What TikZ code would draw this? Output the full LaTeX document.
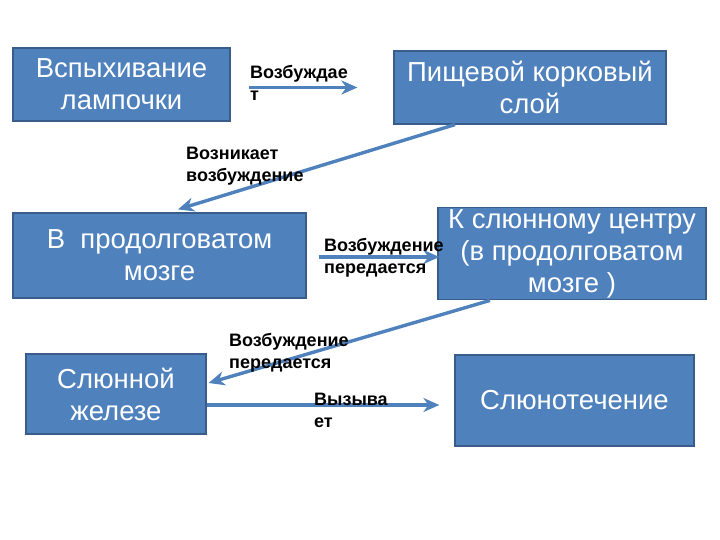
\documentclass[tikz,border=0pt]{standalone}
\usepackage{fontspec}
\setmainfont{Liberation Sans}
\usetikzlibrary{arrows.meta,calc}

\definecolor{boxblue}{HTML}{4F81BD}
\definecolor{boxline}{HTML}{385D8A}

\tikzset{
  stage/.style={draw=boxline, line width=1.2pt, fill=boxblue, text=white,
    font=\fontsize{27.5}{32}\selectfont, align=center, inner sep=2pt},
  link/.style={draw=boxblue, line width=3.4pt,
    -{Stealth[length=16pt,width=14pt,inset=5pt]}},
  note/.style={anchor=north west, font=\fontsize{18}{22}\selectfont\bfseries,
    align=left, inner sep=0pt}
}

\begin{document}
\begin{tikzpicture}[x=1pt,y=-1pt]
% Page frame
\useasboundingbox (0,0) rectangle (720,540);

% The six stages
\node[stage, minimum width=217pt, minimum height=73pt] (lamp) at (121.5,84.5) {Вспыхивание\\лампочки};
\node[stage, minimum width=272pt, minimum height=73pt] (cortex) at (530,87.5) {Пищевой корковый\\слой};
\node[stage, minimum width=293pt, minimum height=85pt] (medulla) at (159.5,255.5) {В\ \ продолговатом\\мозге};
\node[stage, minimum width=268pt, minimum height=87pt] (centre) at (572,253.5) {К слюнному центру\\(в продолговатом\\мозге )};
\node[stage, minimum width=180pt, minimum height=80pt] (gland) at (116,394) {Слюнной\\железе};
\node[stage, minimum width=239pt, minimum height=91pt] (flow) at (574.5,400.5) {Слюнотечение};

% Helper points for the arrows
\coordinate (lampout) at (lamp.east |- cortex.west);
\coordinate (cortexout) at ([xshift=-75pt]cortex.south);
\coordinate (medullain) at ([xshift=18.5pt,yshift=3pt]medulla.north);
\coordinate (medullaout) at ([yshift=-1.5pt]medulla.east);
\coordinate (centreout) at ([xshift=-82pt]centre.south);
\coordinate (glandin) at ([xshift=2pt,yshift=11pt]gland.east);
\coordinate (glandout) at ([yshift=-11pt]gland.east);

% Arrows
\draw[link, shorten <=18pt, shorten >=36pt] (lampout) -- (cortex.west);
\draw[link] (cortexout) -- (medullain);
\draw[link, shorten <=12pt, shorten >=-2pt] (medullaout) -- (medullaout -| centre.west);
\draw[link] (centreout) -- (glandin);
\draw[link, shorten >=15pt] (glandout) -- (glandout -| flow.west);

% Arrow labels
\node[note] (t1) at (250,65) {Возбуждае\\т};
\node[note] (t2) at (186,147) {Возникает\\возбуждение};
\node[note] (t3) at (324,238) {Возбуждение\\передается};
\node[note] (t4) at (229,333) {Возбуждение\\передается};
\node[note] (t5) at (314,393) {Вызыва\\ет};
\end{tikzpicture}
\end{document}
